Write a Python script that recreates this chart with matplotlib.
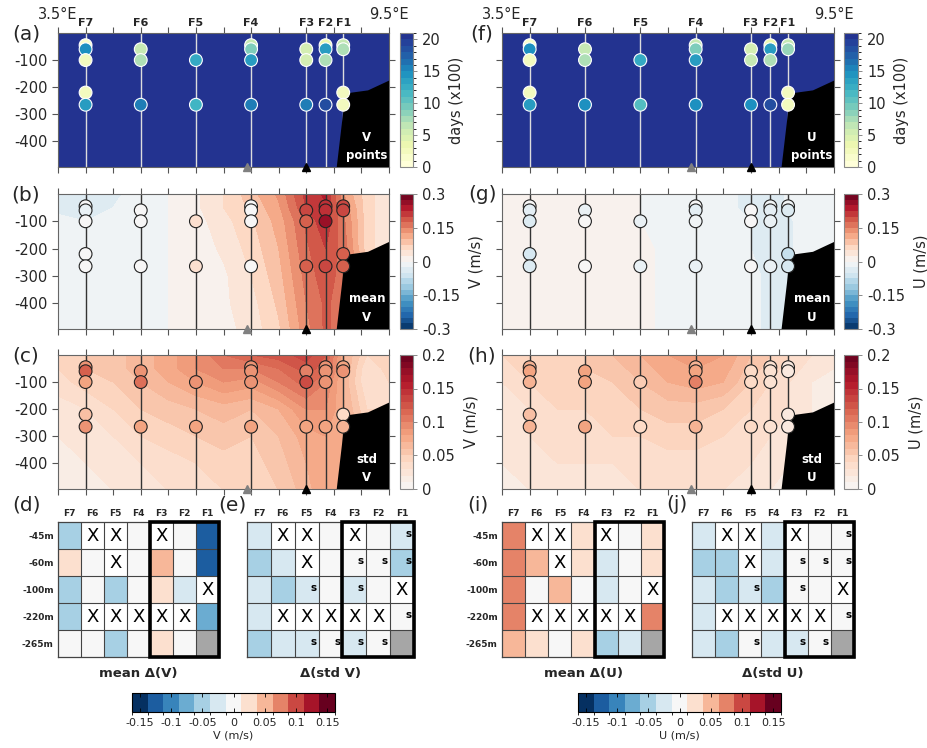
import matplotlib

matplotlib.use("Agg")
import matplotlib.pyplot as plt
import numpy as np
from matplotlib.cm import ScalarMappable
from matplotlib.colors import BoundaryNorm, ListedColormap, Normalize

plt.rcParams["font.family"] = "DejaVu Sans"
plt.rcParams["axes.unicode_minus"] = False

W, H = 927, 748
nan = np.nan

# moorings along the section
STATIONS = ["F7", "F6", "F5", "F4", "F3", "F2", "F1"]
STATION_LON = [4.0, 5.0, 6.0, 7.0, 8.0, 8.35, 8.67]
DEPTHS = [-45, -60, -100, -220, -265]
GREY_MOORING_LON = 6.92
BLACK_MOORING_LON = 8.0
YBOT = -495

# bathymetry (black)
LAND_LON = [8.55, 8.67, 8.76, 9.12, 9.5, 9.5]
LAND_DEPTH = [-500, -292, -222, -212, -176, -500]

# record length at each instrument (days x100), rows = DEPTHS, cols = STATIONS
DAYS_V = [[1, nan, nan, 6, nan, 3, 6],
          [15, 6, nan, 9, 5, 14, 7],
          [2, 7, 13, 14, 5, 7, nan],
          [2, nan, nan, nan, nan, nan, 2],
          [14, 16, 12, 16, 16, 19, 2]]
DAYS_U = [[1, nan, nan, 6, nan, 3, 6],
          [15, 6, nan, 9, 5, 14, 8],
          [2, 7, 13, 14, 6, 7, nan],
          [2, nan, nan, nan, nan, nan, 2],
          [14, 15, 11, 15, 15, 19, 2]]
DAYS_MAX = 21

# observed statistics at the instruments (m/s)
OBS_MEAN_V = [[0.0, nan, nan, 0.0, nan, 0.22, 0.2],
              [-0.02, 0.0, nan, 0.0, 0.2, 0.22, 0.2],
              [0.0, 0.0, 0.05, 0.0, 0.18, 0.26, nan],
              [0.0, nan, nan, nan, nan, nan, 0.18],
              [0.0, 0.0, 0.05, 0.0, 0.18, 0.2, 0.18]]
OBS_STD_V = [[0.09, nan, nan, 0.09, nan, 0.09, 0.08],
             [0.12, 0.09, nan, 0.09, 0.1, 0.09, 0.09],
             [0.08, 0.11, 0.09, 0.09, 0.13, 0.09, nan],
             [0.06, nan, nan, nan, nan, nan, 0.04],
             [0.09, 0.08, 0.08, 0.08, 0.08, 0.08, 0.07]]
OBS_MEAN_U = [[0.0, nan, nan, 0.0, nan, -0.01, -0.01],
              [-0.03, -0.02, nan, -0.03, 0.0, -0.03, -0.04],
              [-0.04, 0.0, -0.02, -0.01, 0.0, -0.02, nan],
              [-0.05, nan, nan, nan, nan, nan, -0.07],
              [-0.04, 0.0, -0.02, -0.02, 0.0, -0.02, -0.05]]
OBS_STD_U = [[0.07, nan, nan, 0.07, nan, 0.03, 0.02],
             [0.08, 0.08, nan, 0.08, 0.04, 0.03, 0.02],
             [0.07, 0.08, 0.05, 0.1, 0.04, 0.03, nan],
             [0.06, nan, nan, nan, nan, nan, 0.02],
             [0.07, 0.08, 0.04, 0.07, 0.04, 0.03, 0.02]]

# model section fields, rows = DEPTH_GRID, cols = LON_GRID
LON_GRID = [3.5, 4.0, 4.5, 5.0, 5.5, 6.0, 6.5, 7.0, 7.5, 8.0, 8.35, 8.7, 9.1, 9.5]
DEPTH_GRID = [0, -50, -100, -200, -300, -400, -500]
MODEL_MEAN_V = [
    [-0.03, -0.03, -0.03, -0.015, 0.0, 0.02, 0.05, 0.09, 0.13, 0.21, 0.23, 0.12, 0.06, 0.03],
    [-0.03, -0.03, -0.025, -0.01, 0.0, 0.02, 0.05, 0.08, 0.12, 0.2, 0.22, 0.14, 0.06, 0.03],
    [-0.02, -0.025, -0.02, -0.01, 0.0, 0.015, 0.04, 0.07, 0.11, 0.18, 0.22, 0.15, 0.06, 0.03],
    [-0.015, -0.015, -0.01, -0.005, 0.0, 0.01, 0.03, 0.06, 0.1, 0.17, 0.2, 0.16, 0.06, 0.03],
    [-0.01, -0.01, -0.01, 0.0, 0.0, 0.005, 0.02, 0.05, 0.09, 0.16, 0.19, 0.16, 0.1, 0.1],
    [-0.01, -0.01, -0.005, 0.0, 0.0, 0.005, 0.02, 0.04, 0.08, 0.15, 0.18, 0.16, 0.1, 0.1],
    [-0.01, -0.01, -0.005, 0.0, 0.0, 0.005, 0.015, 0.035, 0.07, 0.14, 0.18, 0.16, 0.1, 0.1]]
MODEL_STD_V = [
    [0.045, 0.05, 0.055, 0.065, 0.075, 0.09, 0.11, 0.12, 0.125, 0.135, 0.12, 0.07, 0.04, 0.05],
    [0.04, 0.05, 0.055, 0.065, 0.075, 0.09, 0.1, 0.1, 0.11, 0.125, 0.115, 0.07, 0.03, 0.045],
    [0.035, 0.045, 0.05, 0.06, 0.07, 0.08, 0.09, 0.085, 0.1, 0.115, 0.1, 0.065, 0.03, 0.04],
    [0.025, 0.03, 0.04, 0.05, 0.055, 0.06, 0.065, 0.06, 0.07, 0.09, 0.09, 0.07, 0.04, 0.04],
    [0.02, 0.025, 0.03, 0.04, 0.045, 0.05, 0.055, 0.05, 0.06, 0.075, 0.08, 0.08, 0.05, 0.05],
    [0.015, 0.02, 0.025, 0.03, 0.035, 0.04, 0.045, 0.045, 0.055, 0.07, 0.08, 0.08, 0.05, 0.05],
    [0.01, 0.015, 0.02, 0.025, 0.03, 0.035, 0.04, 0.04, 0.05, 0.065, 0.08, 0.08, 0.05, 0.05]]
MODEL_MEAN_U = [
    [0.0, 0.005, 0.01, 0.01, 0.01, 0.0, -0.01, -0.015, -0.02, -0.03, -0.04, -0.02, 0.0, 0.0],
    [0.0, 0.005, 0.01, 0.01, 0.01, 0.0, -0.01, -0.015, -0.02, -0.03, -0.04, -0.02, 0.0, 0.0],
    [0.005, 0.01, 0.01, 0.01, 0.01, 0.0, -0.01, -0.015, -0.02, -0.025, -0.035, -0.03, 0.0, 0.0],
    [0.01, 0.01, 0.01, 0.01, 0.01, 0.005, -0.005, -0.01, -0.02, -0.025, -0.03, -0.03, 0.0, 0.0],
    [0.01, 0.01, 0.01, 0.01, 0.01, 0.005, -0.005, -0.01, -0.015, -0.02, -0.03, -0.03, 0.0, 0.0],
    [0.01, 0.01, 0.01, 0.01, 0.01, 0.005, -0.005, -0.01, -0.015, -0.02, -0.03, -0.03, 0.0, 0.0],
    [0.01, 0.01, 0.01, 0.01, 0.01, 0.005, -0.005, -0.01, -0.015, -0.02, -0.03, -0.03, 0.0, 0.0]]
MODEL_STD_U = [
    [0.04, 0.05, 0.05, 0.05, 0.06, 0.07, 0.08, 0.085, 0.08, 0.06, 0.05, 0.04, 0.03, 0.02],
    [0.035, 0.045, 0.05, 0.05, 0.055, 0.065, 0.075, 0.08, 0.075, 0.055, 0.045, 0.035, 0.025, 0.02],
    [0.03, 0.04, 0.045, 0.045, 0.05, 0.06, 0.07, 0.075, 0.07, 0.05, 0.04, 0.03, 0.02, 0.02],
    [0.03, 0.03, 0.04, 0.04, 0.045, 0.05, 0.055, 0.055, 0.05, 0.04, 0.035, 0.03, 0.02, 0.02],
    [0.025, 0.03, 0.035, 0.035, 0.04, 0.04, 0.045, 0.045, 0.04, 0.035, 0.03, 0.025, 0.02, 0.02],
    [0.02, 0.025, 0.03, 0.03, 0.03, 0.035, 0.035, 0.035, 0.035, 0.03, 0.025, 0.02, 0.02, 0.02],
    [0.015, 0.02, 0.025, 0.025, 0.025, 0.03, 0.03, 0.03, 0.03, 0.025, 0.02, 0.02, 0.02, 0.02]]

# model - obs differences, X = no instrument, g = no model data
CELL_STATUS = ["oXXoXoo", "ooXoooo", "ooooooX", "oXXXXXo", "oooooog"]
ROW_LABELS = ["-45m", "-60m", "-100m", "-220m", "-265m"]
DIFF_MEAN_V = [[-0.05, nan, nan, 0, nan, 0, -0.125],
               [0.025, 0, nan, 0, 0.05, 0, -0.125],
               [-0.05, 0, -0.05, 0, 0.025, -0.025, nan],
               [-0.05, nan, nan, nan, nan, nan, -0.075],
               [0, 0, -0.05, 0, 0.025, 0, nan]]
DIFF_STD_V = [[-0.025, nan, nan, 0, nan, 0, -0.025],
              [-0.05, -0.025, nan, 0, 0, 0, -0.05],
              [-0.025, -0.05, -0.025, 0, -0.025, 0, nan],
              [-0.025, nan, nan, nan, nan, nan, 0],
              [-0.05, -0.025, -0.025, 0, -0.025, 0, nan]]
SIG_STD_V = ["000000s", "0000sss", "00s0s00", "000000s", "00ssss0"]
DIFF_MEAN_U = [[0.075, nan, nan, 0.025, nan, 0, 0.025],
               [0.075, 0.05, nan, 0.025, -0.025, 0, 0.025],
               [0.075, 0, 0.05, 0, -0.025, 0, nan],
               [0.075, nan, nan, nan, nan, nan, 0.075],
               [0.05, 0.025, 0, 0.025, -0.05, -0.025, nan]]
DIFF_STD_U = [[-0.025, nan, nan, -0.025, nan, 0, 0],
              [-0.05, -0.05, nan, -0.025, 0, 0, 0],
              [-0.025, -0.05, -0.025, -0.05, 0, 0, nan],
              [-0.025, nan, nan, nan, nan, nan, 0],
              [-0.025, -0.05, 0, -0.025, -0.025, 0, nan]]
SIG_STD_U = ["000000s", "0000sss", "00s0s00", "000000s", "00s0ss0"]
BOXED_FIRST_COL = 4  # F3..F1

DAYS_CMAP = ListedColormap(plt.get_cmap("YlGnBu")(np.linspace(0, 0.88, 256)))
RED_CMAP = ListedColormap(plt.get_cmap("RdBu_r")(np.linspace(0.5, 1, 256)))
DIFF_CMAP = plt.get_cmap("RdBu_r", 13)
DIFF_NORM = BoundaryNorm(np.linspace(-0.1625, 0.1625, 14), 13)
TXT = "#262626"


def add_axes(fig, x0, y0, x1, y1):
    return fig.add_axes([x0 / W, 1 - y1 / H, (x1 - x0) / W, (y1 - y0) / H])


def section(ax, cax, circles, cmap, levels, field, line_color, edge_color,
            land_label, cticks, cticklabels, clabel, show_y):
    vmin, vmax = levels[0], levels[-1]
    if field is None:
        ax.set_facecolor(cmap(1.0))
        mappable = ScalarMappable(norm=BoundaryNorm(levels, cmap.N), cmap=cmap)
    else:
        mappable = ax.contourf(LON_GRID, DEPTH_GRID, field, levels=levels,
                               cmap=cmap, extend="neither", zorder=1)
    ax.vlines(STATION_LON, YBOT, 0, color=line_color, lw=1, zorder=2)
    ax.fill(LAND_LON, LAND_DEPTH, color="black", lw=0, zorder=3)
    vals = np.array(circles, float)
    lon, dep = np.meshgrid(STATION_LON, DEPTHS)
    ok = ~np.isnan(vals)
    ax.scatter(lon[ok], dep[ok], c=vals[ok], cmap=cmap,
               norm=Normalize(vmin, vmax), s=85, edgecolors=edge_color,
               linewidths=0.8, zorder=4)
    ax.text(9.1, -385, land_label[0], color="white", fontsize=8.5,
            fontweight="bold", ha="center", va="center", zorder=6)
    ax.text(9.1, -452, land_label[1], color="white", fontsize=8.5,
            fontweight="bold", ha="center", va="center", zorder=6)
    ax.plot(GREY_MOORING_LON, YBOT, "^", color="#808080", ms=6, clip_on=False, zorder=7)
    ax.plot(BLACK_MOORING_LON, YBOT, "^", color="black", ms=6, clip_on=False, zorder=7)
    ax.set_xlim(3.5, 9.5)
    ax.set_ylim(YBOT, 0)
    ax.set_xticks(np.arange(3.5, 9.51, 0.5))
    ax.set_xticklabels([])
    ax.set_yticks([-400, -300, -200, -100])
    if not show_y:
        ax.set_yticklabels([])
    ax.tick_params(direction="out", top=True, right=True, length=4, width=0.8,
                   color="#555555", labelsize=10.5, labelcolor=TXT)
    for sp in ax.spines.values():
        sp.set_color("#666666")
        sp.set_linewidth(0.8)

    cb = plt.gcf().colorbar(mappable, cax=cax, ticks=cticks)
    cb.set_ticklabels(cticklabels)
    cb.ax.tick_params(labelsize=10.5, labelcolor=TXT, length=3, width=0.6,
                      color="#777777")
    cb.outline.set_edgecolor("#888888")
    cb.set_label(clabel, fontsize=10.5, color=TXT, labelpad=6)


def grid_panel(ax, vals, sig, title, show_rows):
    data = np.ma.masked_invalid(np.array(vals, float))
    ax.pcolormesh(np.arange(8), np.arange(6), data, cmap=DIFF_CMAP, norm=DIFF_NORM)
    grey = np.ma.masked_array(np.ones((5, 7)),
                              mask=[[c != "g" for c in row] for row in CELL_STATUS])
    ax.pcolormesh(np.arange(8), np.arange(6), grey,
                  cmap=ListedColormap(["#a6a6a6"]))
    for i, row in enumerate(CELL_STATUS):
        for j, c in enumerate(row):
            if c == "X":
                ax.text(j + 0.5, i + 0.52, "X", ha="center", va="center",
                        fontsize=13, color="black")
    if sig is not None:
        for i, row in enumerate(sig):
            for j, c in enumerate(row):
                if c == "s":
                    ax.text(j + 0.78, i + 0.45, "s", ha="center", va="center",
                            fontsize=7.5, fontweight="bold", color="black")
    ax.hlines(np.arange(1, 5), 0, 7, color="#444444", lw=0.8)
    ax.vlines(np.arange(1, 7), 0, 5, color="#444444", lw=0.8)
    ax.add_patch(plt.Rectangle((BOXED_FIRST_COL, 0), 7 - BOXED_FIRST_COL, 5,
                               fill=False, lw=2.6, ec="black", clip_on=False,
                               zorder=5))
    ax.set_xlim(0, 7)
    ax.set_ylim(5, 0)
    ax.xaxis.tick_top()
    ax.set_xticks(np.arange(7) + 0.5)
    ax.set_xticklabels(STATIONS, fontsize=6.5, fontweight="bold", color=TXT)
    ax.set_yticks(np.arange(5) + 0.5)
    if show_rows:
        ax.set_yticklabels(ROW_LABELS, fontsize=6.5, fontweight="bold", color=TXT)
    else:
        ax.set_yticklabels([])
    ax.tick_params(length=0, pad=3)
    for sp in ax.spines.values():
        sp.set_color("#444444")
        sp.set_linewidth(0.9)
    ax.text(0.5, -0.125, title, transform=ax.transAxes, ha="center",
            va="center", fontsize=9.5, fontweight="bold", color=TXT)


def bottom_colorbar(fig, box, label):
    cax = add_axes(fig, *box)
    cb = fig.colorbar(ScalarMappable(norm=DIFF_NORM, cmap=DIFF_CMAP), cax=cax,
                      orientation="horizontal",
                      ticks=[-0.15, -0.1, -0.05, 0, 0.05, 0.1, 0.15])
    cb.set_ticklabels(["-0.15", "-0.1", "-0.05", "0", "0.05", "0.1", "0.15"])
    cb.ax.tick_params(direction="in", top=True, length=3, width=0.6,
                      labelsize=8, labelcolor=TXT, pad=4)
    cb.outline.set_linewidth(0.8)
    cb.set_label(label, fontsize=8, color=TXT, labelpad=2)


fig = plt.figure(figsize=(W / 100, H / 100), dpi=100)

rows = [(33, 167), (194, 329), (355, 489)]
cols = [((58, 389), (400, 413)), ((502, 834), (844, 858))]
days_levels = np.arange(0, DAYS_MAX + 1)
mean_levels = np.linspace(-0.3, 0.3, 25)
std_levels = np.linspace(0, 0.2, 21)

specs = [
    [(DAYS_V, DAYS_CMAP, days_levels, None, "#dddddd", "white", ("V", "points"),
      [0, 5, 10, 15, 20], ["0", "5", "10", "15", "20"], "days (x100)"),
     (OBS_MEAN_V, plt.get_cmap("RdBu_r"), mean_levels, MODEL_MEAN_V, "#333333",
      "#222222", ("mean", "V"), [-0.3, -0.15, 0, 0.15, 0.3],
      ["-0.3", "-0.15", "0", "0.15", "0.3"], "V (m/s)"),
     (OBS_STD_V, RED_CMAP, std_levels, MODEL_STD_V, "#333333", "#222222",
      ("std", "V"), [0, 0.05, 0.1, 0.15, 0.2], ["0", "0.05", "0.1", "0.15", "0.2"],
      "V (m/s)")],
    [(DAYS_U, DAYS_CMAP, days_levels, None, "#dddddd", "white", ("U", "points"),
      [0, 5, 10, 15, 20], ["0", "5", "10", "15", "20"], "days (x100)"),
     (OBS_MEAN_U, plt.get_cmap("RdBu_r"), mean_levels, MODEL_MEAN_U, "#333333",
      "#222222", ("mean", "U"), [-0.3, -0.15, 0, 0.15, 0.3],
      ["-0.3", "-0.15", "0", "0.15", "0.3"], "U (m/s)"),
     (OBS_STD_U, RED_CMAP, std_levels, MODEL_STD_U, "#333333", "#222222",
      ("std", "U"), [0, 0.05, 0.1, 0.15, 0.2], ["0", "0.05", "0.1", "0.15", "0.2"],
      "U (m/s)")],
]
letters = [["(a)", "(b)", "(c)"], ["(f)", "(g)", "(h)"]]
letter_x = [26, 482]

for c, ((ax0, ax1), (cx0, cx1)) in enumerate(cols):
    for r, (y0, y1) in enumerate(rows):
        ax = add_axes(fig, ax0, y0, ax1, y1)
        cax = add_axes(fig, cx0, y0, cx1, y1)
        section(ax, cax, *specs[c][r], show_y=(c == 0))
        fig.text(letter_x[c] / W, 1 - (y0 + 1) / H, letters[c][r], fontsize=14.5,
                 color=TXT, ha="center", va="center")
        if r == 0:
            for lon, name in zip(STATION_LON, STATIONS):
                ax.text(lon, 1.035, name, transform=ax.get_xaxis_transform(),
                        ha="center", va="bottom", fontsize=8, fontweight="bold",
                        color=TXT)
            ax.text(3.5, 1.08, "3.5°E", transform=ax.get_xaxis_transform(),
                    ha="center", va="bottom", fontsize=10.5, color=TXT)
            ax.text(9.5, 1.08, "9.5°E", transform=ax.get_xaxis_transform(),
                    ha="center", va="bottom", fontsize=10.5, color=TXT)

grids = [((58, 522, 219, 657), DIFF_MEAN_V, None, "mean \u0394(V)", True, "(d)", 26),
         ((247, 522, 414, 657), DIFF_STD_V, SIG_STD_V, "\u0394(std V)", False, "(e)", 232),
         ((502, 522, 664, 657), DIFF_MEAN_U, None, "mean \u0394(U)", True, "(i)", 478),
         ((692, 522, 854, 657), DIFF_STD_U, SIG_STD_U, "\u0394(std U)", False, "(j)", 677)]
for box, vals, sig, title, show_rows, letter, lx in grids:
    ax = add_axes(fig, *box)
    grid_panel(ax, vals, sig, title, show_rows)
    fig.text(lx / W, 1 - 505 / H, letter, fontsize=14.5, color=TXT,
             ha="center", va="center")

bottom_colorbar(fig, (132, 693, 335, 712), "V (m/s)")
bottom_colorbar(fig, (578, 693, 781, 712), "U (m/s)")

fig.savefig("out.png", dpi=100)
